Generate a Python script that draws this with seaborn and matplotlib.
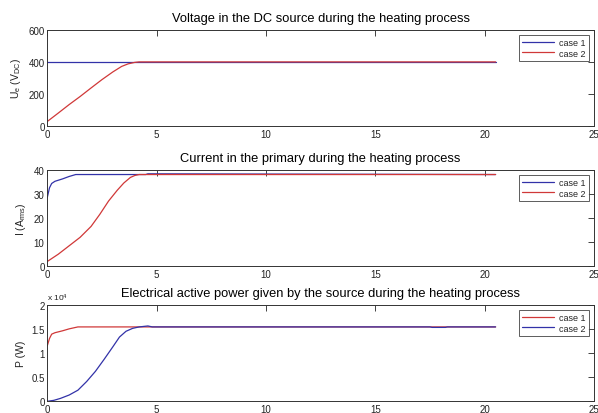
import numpy as np
import pandas as pd
import matplotlib
matplotlib.use("Agg")
import matplotlib.pyplot as plt
import seaborn as sns
from matplotlib.ticker import FuncFormatter

# ---------------- data ----------------
# Plot 1: voltage
v_t_case1 = [0, 20.5]
v_case1 = [400, 400]
v_t_case2 = [0, 0.5, 1, 1.5, 2, 2.5, 3, 3.4, 3.7, 4.0, 4.2, 4.7, 20.5]
v_case2 = [30, 82, 135, 185, 238, 290, 338, 372, 388, 397, 400, 400, 400]

# Plot 2: current
i_t_case1 = [0, 0.1, 0.2, 0.35, 0.7, 1.0, 1.3, 4.5, 4.6, 20.5]
i_case1 = [28.5, 32.5, 34.3, 35.2, 36.2, 37.2, 38.0, 38.0, 38.3, 38.0]
i_t_case2 = [0, 0.5, 1.0, 1.5, 2.0, 2.4, 2.8, 3.2, 3.5, 3.8, 4.0, 4.2, 4.5, 20.5]
i_case2 = [2.0, 5.0, 8.5, 12.0, 16.5, 21.5, 27.0, 31.5, 34.5, 36.8, 37.6, 38.0, 38.0, 38.0]

# Plot 3: power (W)
p_t_case1 = [0, 0.1, 0.2, 0.35, 0.7, 1.0, 1.4, 20.5]
p_case1 = [11500, 13000, 13900, 14200, 14600, 15000, 15400, 15400]
p_t_case2 = [0, 0.3, 0.6, 1.0, 1.4, 1.8, 2.2, 2.6, 3.0, 3.3, 3.6, 3.9, 4.2, 4.6, 4.8, 17.5, 17.6, 18.2, 18.3, 20.5]
p_case2 = [0, 200, 600, 1300, 2300, 4100, 6200, 8700, 11300, 13300, 14500, 15100, 15400, 15600, 15400,
           15400, 15300, 15300, 15400, 15400]

x_ticks = [0, 5, 10, 15, 20, 25]

titles = ["Voltage in the DC source during the heating process",
          "Current in the primary during the heating process",
          "Electrical active power given by the source during the heating process"]
ylabels = [r"U$_e$ (V$_{DC}$)", r"I (A$_{rms}$)", "P (W)"]
legend_labels = ["case 1", "case 2"]

BLUE = "#3232a8"
RED = "#d03838"

sns.set_style("white")
plt.rcParams['font.family'] = ['Liberation Sans', 'DejaVu Sans']
plt.rcParams['mathtext.fontset'] = 'custom'
plt.rcParams['mathtext.rm'] = 'Liberation Sans'
plt.rcParams['mathtext.it'] = 'Liberation Sans'

fig = plt.figure(figsize=(5.98, 4.14), dpi=100)
fig.patch.set_facecolor("white")

W, H = 598.0, 414.0
left, right = 47.3, 594.0
tops = [30.7, 170.7, 305.7]
bottoms = [127.3, 267.3, 402.3]

def make_ax(i):
    return fig.add_axes([left / W, 1 - bottoms[i] / H, (right - left) / W, (bottoms[i] - tops[i]) / H])

series = [
    ((v_t_case1, v_case1, BLUE), (v_t_case2, v_case2, RED)),
    ((i_t_case1, i_case1, BLUE), (i_t_case2, i_case2, RED)),
    ((p_t_case1, p_case1, RED), (p_t_case2, p_case2, BLUE)),
]
ylims = [(0, 600), (0, 40), (0, 20000)]
yticks = [[0, 200, 400, 600], [0, 10, 20, 30, 40], [0, 5000, 10000, 15000, 20000]]

for i in range(3):
    ax = make_ax(i)
    for (t, v, c), lab in zip(series[i], legend_labels):
        df = pd.DataFrame({"t": t, "v": v})
        sns.lineplot(data=df, x="t", y="v", ax=ax, color=c, linewidth=0.9, label=lab,
                     estimator=None, sort=False)
    ax.set_xlim(0, 25)
    ax.set_ylim(*ylims[i])
    ax.set_xticks(x_ticks)
    ax.set_yticks(yticks[i])
    ax.set_xlabel("")
    ax.set_ylabel(ylabels[i], fontsize=7.5, color="#222222", labelpad=4)
    ax.set_title(titles[i], fontsize=9.3, pad=6, color="black")
    ax.tick_params(direction="in", top=True, right=True, length=4, width=0.6,
                   labelsize=7, colors="#222222", pad=2)
    for s in ax.spines.values():
        s.set_linewidth(0.7)
        s.set_color("#333333")
    if i == 2:
        ax.yaxis.set_major_formatter(FuncFormatter(lambda y, pos: f"{y / 1e4:g}"))
        ax.text(0.0, 1.02, r"x 10$^4$", transform=ax.transAxes, fontsize=6,
                ha="left", va="bottom", color="#222222")
    leg = ax.legend(loc="upper right", fontsize=6.5, frameon=True, fancybox=False,
                    handlelength=3.6, borderpad=0.35, labelspacing=0.15,
                    handletextpad=0.5, borderaxespad=0.6)
    leg.get_frame().set_edgecolor("#333333")
    leg.get_frame().set_linewidth(0.7)

fig.savefig("out.png", dpi=100, facecolor="white")
